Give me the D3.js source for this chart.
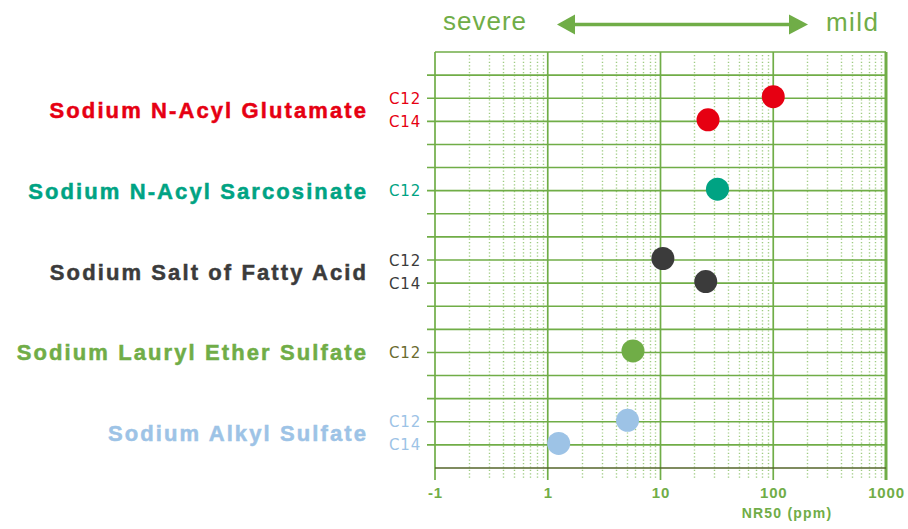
<!DOCTYPE html>
<html>
<head>
<meta charset="utf-8">
<script src="https://cdn.jsdelivr.net/npm/d3@7"></script>
<style>
  body { margin: 0; background: #fff; }
  svg { display: block; font-family: "Liberation Sans", Arial, sans-serif; }
</style>
</head>
<body>
<div id="chart"></div>
<script>
// compounds (group labels) and colours
var groups = [
  "Sodium N-Acyl Glutamate",
  "Sodium N-Acyl Sarcosinate",
  "Sodium Salt of Fatty Acid",
  "Sodium Lauryl Ether Sulfate",
  "Sodium Alkyl Sulfate",
];
var groupColors = ["#e60012", "#00a383", "#3b3b3b", "#70ad47", "#9dc3e6"];
var chainColors = ["#e60012", "#00a383", "#3b3b3b", "#6b6b30", "#9dc3e6"];

// one entry per measured point
var pointGroup = [0, 0, 1, 2, 2, 3, 4, 4];
var pointChain = ["C12", "C14", "C12", "C12", "C14", "C12", "C12", "C14"];
var pointSlot = [2, 3, 6, 9, 10, 13, 16, 17]; // row slot on the category grid
var nr50 = [100, 26.4, 32, 10.5, 25.2, 5.7, 5.1, 1.25];

var slotCount = 18; // slots 0 (top) .. 18 (axis)
var xTicks = [0.1, 1, 10, 100, 1000];
var xTickLabels = ["-1", "1", "10", "100", "1000"];

var width = 908,
  height = 529;
var green = "#70ad47";

var svg = d3
  .select("#chart")
  .append("svg")
  .attr("width", width)
  .attr("height", height);

var x = d3.scaleLog().domain([0.1, 1000]).range([435, 886]);
var y = d3.scaleLinear().domain([0, slotCount]).range([52, 468]);

var minor = [];
[0.1, 1, 10, 100].forEach((d) => {
  for (var k = 2; k <= 9; k++) minor.push(d * k);
});

// dotted minor verticals (snapped to pixel centres so the dots stay crisp)
svg
  .append("g")
  .selectAll("line")
  .data(minor)
  .enter()
  .append("line")
  .attr("x1", (d) => Math.round(x(d)) + 0.5)
  .attr("x2", (d) => Math.round(x(d)) + 0.5)
  .attr("y1", y(0) + 3)
  .attr("y2", y(slotCount) + 12)
  .attr("stroke", "#9fcb82")
  .attr("stroke-width", 1.4)
  .attr("stroke-dasharray", "1.2,2.2");

// horizontal row lines with left ticks
svg
  .append("g")
  .selectAll("line")
  .data(d3.range(1, slotCount))
  .enter()
  .append("line")
  .attr("x1", x(0.1) - 8)
  .attr("x2", x(1000))
  .attr("y1", (d) => y(d))
  .attr("y2", (d) => y(d))
  .attr("stroke", green)
  .attr("stroke-width", 1.6);

// top border
svg
  .append("line")
  .attr("x1", x(0.1))
  .attr("x2", x(1000))
  .attr("y1", y(0))
  .attr("y2", y(0))
  .attr("stroke", green)
  .attr("stroke-width", 1.6);

// major verticals
svg
  .append("g")
  .selectAll("line")
  .data(xTicks)
  .enter()
  .append("line")
  .attr("x1", (d) => x(d))
  .attr("x2", (d) => x(d))
  .attr("y1", y(0))
  .attr("y2", y(slotCount) + 12)
  .attr("stroke", green)
  .attr("stroke-width", (d, i) => (i === xTicks.length - 1 ? 3 : 1.7));

// bottom axis line
svg
  .append("line")
  .attr("x1", x(0.1))
  .attr("x2", x(1000))
  .attr("y1", y(slotCount))
  .attr("y2", y(slotCount))
  .attr("stroke", "#55652a")
  .attr("stroke-width", 1.5);

// x tick labels
var xAxis = d3
  .axisBottom(x)
  .tickValues(xTicks)
  .tickFormat((d, i) => xTickLabels[i])
  .tickSize(0)
  .tickPadding(0);
var gx = svg
  .append("g")
  .attr("transform", `translate(0,${y(slotCount) + 19})`)
  .call(xAxis);
gx.select(".domain").remove();
gx.selectAll("text")
  .attr("fill", green)
  .attr("font-size", 15)
  .attr("font-weight", "bold")
  .attr("font-family", "Liberation Sans, Arial, sans-serif")
  .style("letter-spacing", "0.8px");

svg
  .append("text")
  .attr("x", 787)
  .attr("y", 518)
  .attr("text-anchor", "middle")
  .attr("fill", green)
  .attr("font-size", 14)
  .attr("font-weight", "bold")
  .style("letter-spacing", "1.2px")
  .text("NR50 (ppm)");

// group labels
svg
  .append("g")
  .selectAll("text")
  .data(groups)
  .enter()
  .append("text")
  .attr("x", 368)
  .attr("y", (d, gi) => {
    var slots = pointSlot.filter((s, i) => pointGroup[i] === gi);
    return y(d3.mean(slots)) + 8;
  })
  .attr("text-anchor", "end")
  .attr("fill", (d, i) => groupColors[i])
  .attr("stroke", (d, i) => groupColors[i])
  .attr("stroke-width", 0.5)
  .attr("font-size", 22)
  .attr("font-weight", "bold")
  .style("letter-spacing", "2.1px")
  .text((d) => d);

// chain length labels
svg
  .append("g")
  .selectAll("text")
  .data(pointChain)
  .enter()
  .append("text")
  .attr("x", 421)
  .attr("y", (d, i) => y(pointSlot[i]) + 5.5)
  .attr("text-anchor", "end")
  .attr("fill", (d, i) => chainColors[pointGroup[i]])
  .attr("font-family", "DejaVu Sans, sans-serif")
  .attr("font-size", 15)
  .style("letter-spacing", "0.8px")
  .text((d) => d);

// points
svg
  .append("g")
  .selectAll("circle")
  .data(nr50)
  .enter()
  .append("circle")
  .attr("cx", (d) => x(d))
  .attr("cy", (d, i) => y(pointSlot[i]) - 1.5)
  .attr("r", 11.5)
  .attr("fill", (d, i) => groupColors[pointGroup[i]]);

// severe <-> mild header
var arrowY = 24.5;
svg
  .append("line")
  .attr("x1", 570)
  .attr("x2", 794)
  .attr("y1", arrowY)
  .attr("y2", arrowY)
  .attr("stroke", green)
  .attr("stroke-width", 3.5);
svg
  .append("path")
  .attr(
    "d",
    d3.line()([
      [557, arrowY],
      [575, arrowY - 10],
      [575, arrowY + 10],
    ]) + "Z"
  )
  .attr("fill", green);
svg
  .append("path")
  .attr(
    "d",
    d3.line()([
      [808, arrowY],
      [789, arrowY - 10],
      [789, arrowY + 10],
    ]) + "Z"
  )
  .attr("fill", green);

svg
  .append("text")
  .attr("x", 443)
  .attr("y", 30)
  .attr("fill", green)
  .attr("font-size", 26)
  .style("letter-spacing", "1px")
  .text("severe");
svg
  .append("text")
  .attr("x", 826)
  .attr("y", 31)
  .attr("fill", green)
  .attr("font-size", 26)
  .style("letter-spacing", "1.4px")
  .text("mild");
</script>
</body>
</html>
